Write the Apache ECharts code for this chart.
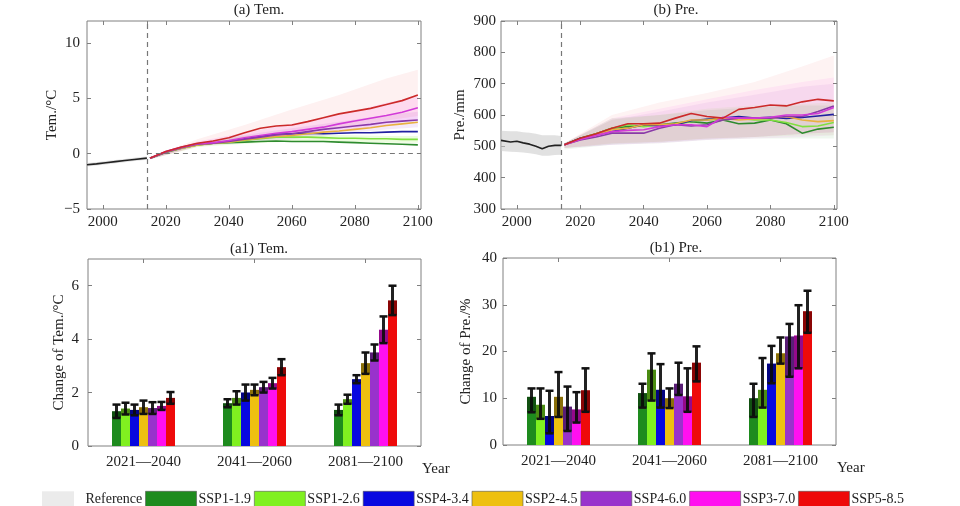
<!DOCTYPE html>
<html><head><meta charset="utf-8">
<script src="https://cdn.jsdelivr.net/npm/echarts@6/dist/echarts.min.js"></script>
<style>html,body{margin:0;padding:0;background:#fff}#c{width:960px;height:506px}</style>
</head><body><div id="c"></div>
<script>
// ---------- categories ----------
const scenarios = ['SSP1-1.9','SSP1-2.6','SSP4-3.4','SSP2-4.5','SSP4-6.0','SSP3-7.0','SSP5-8.5'];
const periods = ['2021—2040','2041—2060','2081—2100'];
const yearTicks = [2000,2020,2040,2060,2080,2100];
const yearTickMarks = [2000,2014,2020,2040,2060,2080,2100];
const temTicks = [-5,0,5,10];
const preTicks = [300,400,500,600,700,800,900];
const temBarTicks = [0,2,4,6];
const preBarTicks = [0,10,20,30,40];

// ---------- historical (reference) ----------
const temHistYears = [1995,1998,2001,2004,2007,2010,2014];
const temHist = [-1.0,-0.92,-0.82,-0.72,-0.62,-0.52,-0.4];
const temRefLo = [-1.15,-1.07,-0.97,-0.87,-0.77,-0.67,-0.55];
const temRefHi = [-0.85,-0.77,-0.67,-0.57,-0.47,-0.37,-0.25];
const preHistYears = [1995,1998,2000,2002,2004,2006,2008,2010,2012,2014];
const preHist = [519,514,516,511,507,500,492,500,503,503];
const preRefLo = [485,483,482,480,478,475,470,470,472,473];
const preRefHi = [550,548,548,545,543,540,535,535,535,533];

// ---------- projections (2015..2100 every 5 years) ----------
const projYears = [2015,2020,2025,2030,2035,2040,2045,2050,2055,2060,2065,2070,2075,2080,2085,2090,2095,2100];
const temSSP119 = [-0.4,0.1,0.5,0.8,0.95,1.0,1.05,1.1,1.15,1.1,1.1,1.1,1.05,1.0,0.95,0.9,0.85,0.8];
const temSSP126 = [-0.4,0.15,0.5,0.8,0.95,1.05,1.2,1.35,1.5,1.5,1.5,1.45,1.4,1.4,1.35,1.35,1.3,1.3];
const temSSP434 = [-0.4,0.15,0.55,0.85,0.95,1.1,1.35,1.55,1.75,1.8,1.85,1.8,1.85,1.9,1.9,1.95,2.0,2.0];
const temSSP245 = [-0.4,0.15,0.5,0.8,0.95,1.05,1.25,1.4,1.55,1.65,1.8,1.95,2.05,2.2,2.35,2.55,2.7,2.85];
const temSSP460 = [-0.4,0.15,0.55,0.85,0.95,1.1,1.3,1.5,1.7,1.8,2.0,2.2,2.35,2.5,2.65,2.85,2.95,3.05];
const temSSP370 = [-0.4,0.2,0.6,0.9,1.0,1.2,1.45,1.65,1.85,2.0,2.2,2.4,2.7,2.95,3.2,3.45,3.75,4.15];
const temSSP585 = [-0.4,0.2,0.6,0.95,1.15,1.45,1.9,2.3,2.5,2.6,2.9,3.25,3.6,3.85,4.1,4.45,4.8,5.3];

const preSSP119 = [505,526,540,558,563,565,569,574,579,574,584,572,574,584,572,542,555,561];
const preSSP126 = [505,526,540,558,569,563,569,569,579,586,584,590,584,584,576,563,565,576];
const preSSP434 = [505,526,537,547,558,569,565,569,582,586,590,595,590,593,589,592,597,602];
const preSSP245 = [505,522,535,553,558,569,569,572,584,584,590,584,587,590,595,584,579,582];
const preSSP460 = [505,520,530,542,542,542,558,569,565,569,584,590,590,590,595,595,611,629];
const preSSP370 = [505,522,535,547,551,553,563,569,569,563,593,590,590,593,600,600,605,624];
const preSSP585 = [505,526,540,558,572,572,574,590,605,595,590,618,624,632,629,642,650,645];

// ---------- uncertainty bands ----------
const bandYears = [2015,2030,2045,2060,2075,2090,2100];
const temBand126Lo = [-0.5,0.6,0.9,1.1,1.1,1.0,1.0];
const temBand126Hi = [-0.3,1.0,1.6,1.8,1.7,1.6,1.6];
const temBand460Lo = [-0.5,0.7,1.0,1.3,1.8,2.2,2.4];
const temBand460Hi = [-0.3,1.0,1.7,2.3,2.9,3.5,3.8];
const temBand370Lo = [-0.5,0.7,1.1,1.5,2.0,2.6,3.1];
const temBand370Hi = [-0.3,1.1,1.9,2.7,3.5,4.6,5.2];
const temBand585Lo = [-0.5,0.6,1.2,1.8,2.4,3.0,3.4];
const temBand585Hi = [-0.3,1.3,2.6,4.0,5.3,6.8,7.6];
const preBand119Lo = [490,505,510,520,525,525,525];
const preBand119Hi = [510,590,600,615,625,630,630];
const preBand126Lo = [495,508,515,525,530,535,535];
const preBand126Hi = [510,585,600,620,630,635,640];
const preBand460Lo = [495,505,512,522,530,540,545];
const preBand460Hi = [510,585,610,640,665,690,700];
const preBand370Lo = [495,505,510,520,525,530,535];
const preBand370Hi = [510,590,620,650,680,705,720];
const preBand585Lo = [495,510,515,525,530,540,545];
const preBand585Hi = [510,600,640,670,705,755,790];

// ---------- bar values (rows: scenarios, cols: periods) ----------
const temBarMean = [[1.3,1.6,1.35],[1.4,1.8,1.75],[1.35,2.0,2.5],[1.45,2.1,3.1],[1.42,2.2,3.5],[1.5,2.35,4.35],[1.8,2.95,5.45]];
const temBarLow  = [[1.05,1.45,1.15],[1.18,1.55,1.58],[1.15,1.7,2.35],[1.2,1.9,2.7],[1.2,2.0,3.2],[1.35,2.15,3.85],[1.58,2.65,4.9]];
const temBarHigh = [[1.55,1.75,1.55],[1.62,2.05,1.92],[1.55,2.3,2.65],[1.7,2.3,3.5],[1.64,2.4,3.8],[1.65,2.55,4.85],[2.02,3.25,6.0]];
const preBarMean = [[10.3,11.1,10.0],[8.6,16.1,11.8],[6.2,11.8,17.4],[10.3,10.0,19.6],[8.2,13.1,23.2],[7.6,10.4,23.4],[11.7,17.6,28.6]];
const preBarLow  = [[7.0,8.0,6.0],[5.6,9.5,8.0],[2.5,8.0,13.2],[6.0,7.9,17.4],[3.0,10.7,14.6],[4.8,7.1,16.4],[7.1,13.6,24.0]];
const preBarHigh = [[12.1,13.1,13.1],[12.1,19.6,18.6],[11.6,17.3,21.2],[15.6,12.1,23.0],[12.5,17.6,25.9],[11.3,16.4,29.9],[16.4,21.1,33.0]];

// ---------- styles ----------
const barColors  = ['#1e8b1e','#80f020','#0808e0','#eec010','#9932cc','#ff10f0','#ee0a0a'];
const lineColors = ['#2e8b2e','#80e040','#2020a0','#e8b040','#8a3aa8','#d23ad8','#cc2a2a'];
const FONT = 'Liberation Serif';
const BAR_W = 9;

const temLines = [temSSP119,temSSP126,temSSP434,temSSP245,temSSP460,temSSP370,temSSP585];
const preLines = [preSSP119,preSSP126,preSSP434,preSSP245,preSSP460,preSSP370,preSSP585];

const grids = [
  {left:87, top:21, width:334, height:188},
  {left:501, top:21, width:336, height:188},
  {left:88, top:259, width:333, height:187},
  {left:503, top:258, width:333, height:187}
].map(g => Object.assign(g, {show:true, borderColor:'#808080', borderWidth:1, backgroundColor:'#fff'}));

const lblStyle = {fontFamily:FONT, fontSize:15, color:'#222'};
const tick = vals => ({show:true, inside:true, length:4, lineStyle:{color:'#808080'}, customValues: vals});
const plainFmt = v => String(v);

function valX(gi, pos, showLabel){
  return {type:'value', gridIndex:gi, position:pos, min:1995, max:2101,
    axisLine:{show:false, onZero:false}, splitLine:{show:false},
    axisTick: tick(yearTickMarks),
    axisLabel: Object.assign({show:showLabel, margin:6, customValues:yearTicks, formatter:plainFmt}, lblStyle)};
}
function catX(gi, pos, showLabel, name){
  return {type:'category', gridIndex:gi, position:pos, data:periods,
    axisLine:{show:false, onZero:false}, splitLine:{show:false},
    axisTick:{show:true, inside:true, length:4, alignWithLabel:true, lineStyle:{color:'#808080'}},
    axisLabel: Object.assign({show:showLabel, margin:9}, lblStyle),
    name: name || '', nameLocation:'end', nameGap:1,
    nameTextStyle:{fontFamily:FONT, fontSize:15, color:'#222', verticalAlign:'top', align:'left', padding:[16,0,0,0]}};
}
function valY(gi, pos, min, max, ticks, showLabel, name, nameGap, margin, fmt){
  return {type:'value', gridIndex:gi, position:pos, min:min, max:max,
    axisLine:{show:false, onZero:false}, splitLine:{show:false},
    axisTick: tick(ticks),
    axisLabel: Object.assign({show:showLabel, margin:margin, customValues:ticks, formatter: fmt || plainFmt}, lblStyle),
    name: name || '', nameLocation:'middle', nameGap:nameGap,
    nameTextStyle:{fontFamily:FONT, fontSize:15, color:'#222'}};
}
const minusFmt = v => String(v).replace('-', '\u2212');

const xAxis = [
  valX(0,'bottom',true), valX(0,'top',false),
  valX(1,'bottom',true), valX(1,'top',false),
  catX(2,'bottom',true,'Year'), catX(2,'top',false),
  catX(3,'bottom',true,'Year'), catX(3,'top',false)
];
const yAxis = [
  valY(0,'left',-5,12,temTicks,true,'Tem./°C',27,7,minusFmt), valY(0,'right',-5,12,temTicks,false),
  valY(1,'left',300,900,preTicks,true,'Pre./mm',33,5), valY(1,'right',300,900,preTicks,false),
  valY(2,'left',0,7,temBarTicks,true,'Change of Tem./°C',21,9), valY(2,'right',0,7,temBarTicks,false),
  valY(3,'left',0,40,preBarTicks,true,'Change of Pre./%',29,6), valY(3,'right',0,40,preBarTicks,false)
];

function band(xi, yi, xs, lo, hi, fill, name){
  return {type:'custom', name: name, xAxisIndex:xi, yAxisIndex:yi, silent:true, z:1, clip:true,
    data: xs.map((x,i)=>[x, lo[i], hi[i]]),
    renderItem: (params, api) => {
      if (params.dataIndex !== 0) return;
      const top = xs.map((x,i)=>api.coord([x, hi[i]]));
      const bot = xs.map((x,i)=>api.coord([x, lo[i]])).reverse();
      return {type:'polygon', shape:{points: top.concat(bot)}, style:{fill: fill}};
    }};
}
function line(xi, yi, xs, ys, color, extra){
  return Object.assign({type:'line', xAxisIndex:xi, yAxisIndex:yi, showSymbol:false, symbol:'none',
    data: xs.map((x,i)=>[x, ys[i]]), lineStyle:{color:color, width:1.6}, itemStyle:{color:color}, z:3, silent:true}, extra||{});
}
function errBars(xi, yi, k, lo, hi, mean){
  return {type:'custom', xAxisIndex:xi, yAxisIndex:yi, z:5, silent:true,
    data: periods.map((p,i)=>[i, lo[i], hi[i], mean[i]]),
    renderItem: (params, api) => {
      const pLo = api.coord([api.value(0), api.value(1)]);
      const pHi = api.coord([api.value(0), api.value(2)]);
      const pMean = api.coord([api.value(0), Math.min(api.value(2), api.value(3))]);
      const x = pLo[0] + (k - 3) * BAR_W;
      return {type:'group', children:[
        {type:'rect', shape:{x:x-BAR_W/2, y:pMean[1], width:BAR_W, height:pLo[1]-pMean[1]}, style:{fill:'rgba(0,0,0,0.42)'}},
        {type:'line', shape:{x1:x, y1:pHi[1], x2:x, y2:pLo[1]}, style:{stroke:'rgba(10,10,10,0.9)', lineWidth:3}},
        {type:'line', shape:{x1:x-4, y1:pHi[1], x2:x+4, y2:pHi[1]}, style:{stroke:'#111', lineWidth:2.5}},
        {type:'line', shape:{x1:x-4, y1:pLo[1], x2:x+4, y2:pLo[1]}, style:{stroke:'#111', lineWidth:2.5}}
      ]};
    }};
}
const dashStyle = {color:'#777', type:[5,4], width:1.2};

const series = [];
// bars first (legend icons)
scenarios.forEach((s,k)=>{
  series.push({type:'bar', name:s, xAxisIndex:4, yAxisIndex:4, barWidth:BAR_W, barGap:'0%',
    data: temBarMean[k], itemStyle:{color:barColors[k]}, z:2});
});
scenarios.forEach((s,k)=>{
  series.push({type:'bar', name:s, xAxisIndex:6, yAxisIndex:6, barWidth:BAR_W, barGap:'0%',
    data: preBarMean[k], itemStyle:{color:barColors[k]}, z:2});
});
scenarios.forEach((s,k)=>{
  series.push(errBars(4,4,k,temBarLow[k],temBarHigh[k],temBarMean[k]));
  series.push(errBars(6,6,k,preBarLow[k],preBarHigh[k],preBarMean[k]));
});
// reference bands
series.push(band(0,0,temHistYears,temRefLo,temRefHi,'rgba(200,200,200,0.55)','Reference'));
series.push(band(2,2,preHistYears,preRefLo,preRefHi,'rgba(200,200,200,0.55)','Reference'));
// scenario bands
series.push(band(0,0,bandYears,temBand126Lo,temBand126Hi,'rgba(128,240,32,0.15)'));
series.push(band(0,0,bandYears,temBand460Lo,temBand460Hi,'rgba(153,50,204,0.10)'));
series.push(band(0,0,bandYears,temBand370Lo,temBand370Hi,'rgba(255,16,240,0.10)'));
series.push(band(0,0,bandYears,temBand585Lo,temBand585Hi,'rgba(238,10,10,0.06)'));
series.push(band(2,2,bandYears,preBand119Lo,preBand119Hi,'rgba(30,139,30,0.07)'));
series.push(band(2,2,bandYears,preBand126Lo,preBand126Hi,'rgba(128,240,32,0.08)'));
series.push(band(2,2,bandYears,preBand460Lo,preBand460Hi,'rgba(153,50,204,0.07)'));
series.push(band(2,2,bandYears,preBand370Lo,preBand370Hi,'rgba(255,16,240,0.06)'));
series.push(band(2,2,bandYears,preBand585Lo,preBand585Hi,'rgba(238,10,10,0.05)'));
// historical lines with dashed reference lines
series.push(line(0,0,temHistYears,temHist,'#222',{markLine:{silent:true, symbol:'none', label:{show:false}, lineStyle:dashStyle,
  data:[{xAxis:2014}, [{coord:[2014,0]},{coord:[2101,0]}]]}}));
series.push(line(2,2,preHistYears,preHist,'#222',{markLine:{silent:true, symbol:'none', label:{show:false}, lineStyle:dashStyle,
  data:[{xAxis:2014}]}}));
// projection lines
scenarios.forEach((s,k)=>{
  series.push(line(0,0,projYears,temLines[k],lineColors[k]));
  series.push(line(2,2,projYears,preLines[k],lineColors[k]));
});

const titleStyle = {fontFamily:FONT, fontSize:15, fill:'#222', textAlign:'center', textVerticalAlign:'middle'};
const graphic = [
  {type:'text', x:259, y:10, style:Object.assign({text:'(a) Tem.'}, titleStyle)},
  {type:'text', x:676, y:10, style:Object.assign({text:'(b) Pre.'}, titleStyle)},
  {type:'text', x:259, y:249, style:Object.assign({text:'(a1) Tem.'}, titleStyle)},
  {type:'text', x:676, y:248, style:Object.assign({text:'(b1) Pre.'}, titleStyle)}
];

const legendData = [{name:'Reference', icon:'path://M0,0h2v1h-2z', itemStyle:{color:'#ebebeb', borderWidth:0}}].concat(
  scenarios.map((s,k)=>({name:s, itemStyle:{color:barColors[k], borderColor:'#555', borderWidth:0.6}})));

const chart = echarts.init(document.getElementById('c'), null, {renderer:'canvas'});
chart.setOption({
  animation:false,
  backgroundColor:'#fff',
  grid: grids,
  xAxis: xAxis,
  yAxis: yAxis,
  legend: {data: legendData, left:37, top:486, icon:'rect', itemWidth:51, itemHeight:16, itemGap:3,
    selectedMode:false, textStyle:{fontFamily:FONT, fontSize:14, color:'#222', padding:[0,0,0,-3]}},
  graphic: graphic,
  series: series
});
</script></body></html>
